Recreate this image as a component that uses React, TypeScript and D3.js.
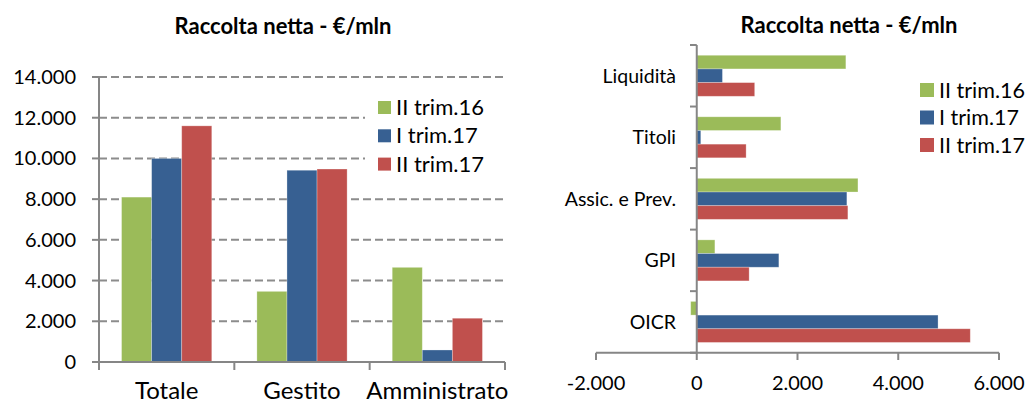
import React from "react";
import * as d3 from "d3";

const seriesNames = ["II trim.16", "I trim.17", "II trim.17"];
const seriesColors = ["#9BBB59", "#376092", "#C0504D"];

const leftCategories = ["Totale", "Gestito", "Amministrato"];
const leftII16 = [8100, 3470, 4650];
const leftI17 = [10000, 9420, 590];
const leftII17 = [11600, 9480, 2150];
const leftTicks = [0, 2000, 4000, 6000, 8000, 10000, 12000, 14000];

const rightCategories = ["Liquidità", "Titoli", "Assic. e Prev.", "GPI", "OICR"];
const rightII16 = [2960, 1670, 3200, 360, -120];
const rightI17 = [510, 80, 2980, 1630, 4790];
const rightII17 = [1150, 980, 3000, 1040, 5430];
const rightTicks = [-2000, 0, 2000, 4000, 6000];

const title = "Raccolta netta - €/mln";
const FONT = "Lato, 'Open Sans', sans-serif";
const AXIS = "#868686";

const fmt = (v: number) => d3.format(",")(v).replace(/,/g, ".").replace("\u2212", "-");

function LeftChart() {
  const series = [leftII16, leftI17, leftII17];
  const y = d3.scaleLinear().domain([0, 14000]).range([362, 77]);
  const x = d3.scaleBand<string>().domain(leftCategories).range([99, 505]).paddingInner(0).paddingOuter(0);
  const inner = d3.scaleBand<number>().domain([0, 1, 2]).range([0, x.bandwidth()]).paddingInner(0).paddingOuter(0.75);
  const boundaries = [...leftCategories.map((c) => x(c)!), 505];
  return (
    <g>
      <text x={283} y={34} textAnchor="middle" fontFamily={FONT} fontWeight="bold" fontSize={22} fill="#000">
        {title}
      </text>
      {leftTicks.filter((t) => t !== 0).map((t) => (
        <line key={"g" + t} x1={99} x2={505} y1={y(t)} y2={y(t)} stroke="#8c8c8c" strokeWidth={2} strokeDasharray="8,4" />
      ))}
      {series.map((vals, si) =>
        leftCategories.map((c, ci) => (
          <rect
            key={si + "-" + ci}
            x={x(c)! + inner(si)!}
            width={inner.bandwidth()}
            y={y(vals[ci])}
            height={y(0) - y(vals[ci])}
            fill={seriesColors[si]}
            stroke="#ffffff"
            strokeOpacity={0.35}
            strokeWidth={0.8}
          />
        ))
      )}
      <line x1={99} x2={99} y1={77} y2={362} stroke={AXIS} strokeWidth={2} />
      <line x1={92} x2={505} y1={362} y2={362} stroke={AXIS} strokeWidth={2} />
      {leftTicks.map((t) => (
        <g key={"t" + t}>
          <line x1={92} x2={99} y1={y(t)} y2={y(t)} stroke={AXIS} strokeWidth={2} />
          <text x={76} y={y(t) + 7} textAnchor="end" fontFamily={FONT} fontSize={20} fill="#000">
            {fmt(t)}
          </text>
        </g>
      ))}
      {boundaries.map((b, i) => (
        <line key={"b" + i} x1={b} x2={b} y1={362} y2={370} stroke={AXIS} strokeWidth={2} />
      ))}
      {leftCategories.map((c) => (
        <text key={c} x={x(c)! + x.bandwidth() / 2} y={399} textAnchor="middle" fontFamily={FONT} fontSize={24} fill="#000">
          {c}
        </text>
      ))}
      <rect x={365} y={88} width={138} height={95} fill="#ffffff" />
      {seriesNames.map((n, i) => (
        <g key={n}>
          <rect x={378} y={101 + i * 28.3} width={13} height={13} fill={seriesColors[i]} />
          <text x={396} y={115 + i * 28.3} fontFamily={FONT} fontSize={22} fill="#000">
            {n}
          </text>
        </g>
      ))}
    </g>
  );
}

function RightChart() {
  const series = [rightII16, rightI17, rightII17];
  const x = d3.scaleLinear().domain([-2000, 6000]).range([596, 999]);
  const y = d3.scaleBand<string>().domain(rightCategories).range([45, 352.7]).paddingInner(0).paddingOuter(0);
  const inner = d3.scaleBand<number>().domain([0, 1, 2]).range([0, y.bandwidth()]).paddingInner(0).paddingOuter(0.75);
  const boundaries = [...rightCategories.map((c) => y(c)!), 352.7];
  const y0 = 352.7;
  return (
    <g>
      <text x={849} y={33} textAnchor="middle" fontFamily={FONT} fontWeight="bold" fontSize={22} fill="#000">
        {title}
      </text>
      {series.map((vals, si) =>
        rightCategories.map((c, ci) => (
          <rect
            key={si + "-" + ci}
            y={y(c)! + inner(si)!}
            height={inner.bandwidth()}
            x={Math.min(x(0), x(vals[ci]))}
            width={Math.abs(x(vals[ci]) - x(0))}
            fill={seriesColors[si]}
            stroke="#ffffff"
            strokeOpacity={0.35}
            strokeWidth={0.8}
          />
        ))
      )}
      <line x1={x(0)} x2={x(0)} y1={45} y2={y0} stroke={AXIS} strokeWidth={2} />
      <line x1={596} x2={999} y1={y0} y2={y0} stroke={AXIS} strokeWidth={2} />
      {boundaries.map((b, i) => (
        <line key={"b" + i} x1={690} x2={x(0)} y1={b} y2={b} stroke={AXIS} strokeWidth={2} />
      ))}
      {rightTicks.map((t) => (
        <g key={"t" + t}>
          <line x1={x(t)} x2={x(t)} y1={y0} y2={360} stroke={AXIS} strokeWidth={2} />
          <text x={x(t)} y={390} textAnchor="middle" fontFamily={FONT} fontSize={20} fill="#000">
            {fmt(t)}
          </text>
        </g>
      ))}
      {rightCategories.map((c) => (
        <text key={c} x={676} y={y(c)! + y.bandwidth() / 2 + 7} textAnchor="end" fontFamily={FONT} fontSize={19.5} fill="#000">
          {c}
        </text>
      ))}
      {seriesNames.map((n, i) => (
        <g key={n}>
          <rect x={920} y={83 + i * 27.5} width={14} height={14} fill={seriesColors[i]} />
          <text x={939} y={97.5 + i * 27.5} fontFamily={FONT} fontSize={21.5} fill="#000">
            {n}
          </text>
        </g>
      ))}
    </g>
  );
}

export default function App() {
  return (
    <svg
      width={1029}
      height={405}
      style={{ position: "absolute", left: 0, top: 0, background: "#ffffff", display: "block" }}
    >
      <rect x={0} y={0} width={1029} height={405} fill="#ffffff" />
      <LeftChart />
      <RightChart />
    </svg>
  );
}
